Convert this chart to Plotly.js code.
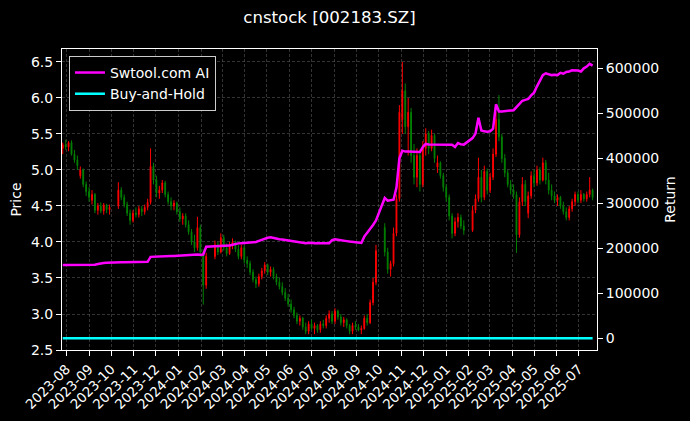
<!DOCTYPE html>
<html>
<head>
<meta charset="utf-8">
<script src="https://cdn.plot.ly/plotly-3.0.1.min.js"></script>
<style>html,body{margin:0;padding:0;background:#000;}#chart{width:690px;height:421px;}</style>
</head>
<body>
<div id="chart"></div>
<script>
const dates = [
'2023-07-27','2023-07-31','2023-08-04','2023-08-08','2023-08-12','2023-08-16','2023-08-20','2023-08-24','2023-08-28',
'2023-09-01','2023-09-05','2023-09-09','2023-09-13','2023-09-17','2023-09-21','2023-09-25','2023-09-29',
'2023-10-11','2023-10-15','2023-10-19','2023-10-23','2023-10-27','2023-10-31',
'2023-11-04','2023-11-08','2023-11-12','2023-11-16','2023-11-20','2023-11-24','2023-11-28',
'2023-12-02','2023-12-06','2023-12-10','2023-12-14','2023-12-18','2023-12-22','2023-12-26','2023-12-30',
'2024-01-03','2024-01-07','2024-01-11','2024-01-15','2024-01-19','2024-01-23','2024-01-27','2024-01-31',
'2024-02-04','2024-02-08','2024-02-20','2024-02-24','2024-02-28',
'2024-03-03','2024-03-07','2024-03-11','2024-03-15','2024-03-19','2024-03-23','2024-03-27','2024-03-31',
'2024-04-04','2024-04-08','2024-04-12','2024-04-16','2024-04-20','2024-04-24','2024-04-28',
'2024-05-02','2024-05-06','2024-05-10','2024-05-14','2024-05-18','2024-05-22','2024-05-26','2024-05-30',
'2024-06-03','2024-06-07','2024-06-11','2024-06-15','2024-06-19','2024-06-23','2024-06-27',
'2024-07-01','2024-07-05','2024-07-09','2024-07-13','2024-07-17','2024-07-21','2024-07-25','2024-07-29',
'2024-08-02','2024-08-06','2024-08-10','2024-08-14','2024-08-18','2024-08-22','2024-08-26','2024-08-30',
'2024-09-03','2024-09-07','2024-09-11','2024-09-15','2024-09-19','2024-09-23','2024-09-27',
'2024-10-09','2024-10-13','2024-10-17','2024-10-21','2024-10-25','2024-10-29',
'2024-11-02','2024-11-06','2024-11-10','2024-11-14','2024-11-18','2024-11-22','2024-11-26','2024-11-30',
'2024-12-04','2024-12-08','2024-12-12','2024-12-16','2024-12-20','2024-12-24','2024-12-28',
'2025-01-01','2025-01-05','2025-01-09','2025-01-13','2025-01-17','2025-01-21','2025-01-25',
'2025-02-06','2025-02-10','2025-02-14','2025-02-18','2025-02-22','2025-02-26',
'2025-03-02','2025-03-06','2025-03-10','2025-03-14','2025-03-18','2025-03-22','2025-03-26','2025-03-30',
'2025-04-03','2025-04-07','2025-04-11','2025-04-15','2025-04-19','2025-04-23','2025-04-27',
'2025-05-01','2025-05-05','2025-05-09','2025-05-13','2025-05-17','2025-05-21','2025-05-25','2025-05-29',
'2025-06-02','2025-06-06','2025-06-10','2025-06-14','2025-06-18','2025-06-22','2025-06-26','2025-06-30',
'2025-07-04','2025-07-08','2025-07-12','2025-07-16','2025-07-20'
];

const openP = [
5.30,5.35,5.32,5.38,5.22,5.14,4.92,5.00,4.80,
4.70,4.58,4.66,4.44,4.50,4.43,4.51,4.45,
4.50,4.72,4.62,4.52,4.40,4.30,
4.40,4.38,4.46,4.42,4.48,4.55,5.05,
4.86,4.68,4.72,4.82,4.66,4.56,4.50,4.54,
4.42,4.32,4.36,4.24,4.14,4.00,3.92,4.20,
3.86,3.40,3.80,3.96,3.86,
4.06,3.92,3.84,3.96,4.00,3.90,3.80,3.92,
3.75,3.70,3.58,3.48,3.42,3.52,3.60,
3.68,3.58,3.62,3.52,3.44,3.38,3.30,3.22,
3.14,3.06,2.98,2.90,2.94,2.82,2.76,
2.86,2.80,2.84,2.78,2.86,2.84,2.94,3.00,
2.90,3.04,2.96,2.88,2.92,2.84,2.76,2.84,
2.82,2.78,2.80,2.94,2.88,3.16,3.44,
4.20,3.86,3.62,3.70,4.12,4.60,
5.70,6.10,5.60,5.80,5.20,4.90,5.20,4.80,
5.30,5.50,5.30,5.48,5.04,5.10,4.92,
4.76,4.62,4.36,4.12,4.28,4.34,4.22,
4.16,4.44,4.60,4.90,4.62,4.98,
4.72,4.90,5.22,5.70,5.46,5.16,4.96,4.80,
4.72,4.66,4.10,4.56,4.80,4.40,4.64,
4.92,4.82,5.00,4.86,5.10,4.86,4.72,4.64,
4.58,4.62,4.50,4.42,4.34,4.46,4.56,4.66,
4.58,4.66,4.60,4.66,4.72
];

const highP = [
5.38,5.42,5.40,5.41,5.28,5.20,5.05,5.02,4.84,
4.76,4.72,4.68,4.54,4.55,4.54,4.53,4.52,
4.83,4.76,4.66,4.56,4.45,4.44,
4.48,4.50,4.50,4.52,4.60,5.30,5.10,
4.92,4.78,4.86,4.85,4.70,4.62,4.58,4.56,
4.48,4.40,4.40,4.30,4.18,4.10,4.35,4.24,
3.90,3.85,4.02,4.00,4.12,
4.10,3.98,4.00,4.05,4.02,3.96,3.96,3.95,
3.80,3.74,3.62,3.52,3.56,3.64,3.72,
3.70,3.66,3.65,3.56,3.50,3.44,3.36,3.28,
3.20,3.10,3.02,2.98,2.96,2.88,2.90,
2.92,2.88,2.86,2.90,2.92,2.98,3.05,3.04,
3.08,3.06,3.00,2.96,2.94,2.86,2.88,2.90,
2.86,2.84,2.98,3.00,3.20,3.50,3.96,
4.26,3.92,3.74,4.20,4.66,5.90,
6.50,6.20,6.00,5.86,5.36,5.30,5.28,5.40,
5.58,5.54,5.56,5.50,5.20,5.12,4.96,
4.80,4.66,4.40,4.34,4.40,4.38,4.30,
4.50,4.66,5.17,5.00,5.06,5.02,
4.96,5.30,5.80,6.04,5.50,5.22,5.00,4.86,
4.80,4.70,4.62,4.90,4.86,4.70,4.98,
5.00,5.06,5.04,5.17,5.14,4.96,4.80,4.70,
4.66,4.64,4.56,4.48,4.50,4.60,4.70,4.70,
4.72,4.68,4.70,4.90,4.74
];

const lowP = [
5.22,5.28,5.26,5.20,5.10,5.00,4.88,4.76,4.64,
4.56,4.52,4.40,4.38,4.40,4.38,4.40,4.38,
4.46,4.58,4.48,4.36,4.24,4.27,
4.34,4.34,4.36,4.38,4.44,4.52,4.80,
4.62,4.60,4.68,4.62,4.52,4.44,4.44,4.38,
4.28,4.24,4.20,4.10,3.96,3.86,3.88,3.80,
3.13,3.35,3.76,3.82,3.84,
3.88,3.80,3.82,3.90,3.86,3.76,3.76,3.70,
3.64,3.54,3.44,3.36,3.38,3.48,3.56,
3.54,3.52,3.48,3.40,3.34,3.26,3.18,3.10,
3.02,2.94,2.86,2.84,2.78,2.72,2.72,
2.78,2.72,2.74,2.74,2.80,2.80,2.88,2.86,
2.86,2.92,2.84,2.82,2.80,2.72,2.72,2.78,
2.76,2.72,2.78,2.84,2.86,3.12,3.40,
3.80,3.56,3.52,3.66,4.08,4.56,
5.50,5.50,5.20,5.10,4.80,4.76,4.70,4.76,
5.20,5.22,5.26,5.10,4.96,4.88,4.70,
4.56,4.30,4.05,4.08,4.20,4.18,4.10,
4.14,4.40,4.56,4.55,4.58,4.66,
4.68,4.86,5.18,5.40,5.10,4.90,4.76,4.66,
4.60,3.85,4.06,4.50,4.50,4.33,4.60,
4.76,4.78,4.80,4.84,4.80,4.66,4.58,4.54,
4.50,4.46,4.38,4.30,4.30,4.42,4.50,4.54,
4.54,4.56,4.56,4.62,4.58
];

const closeP = [
5.35,5.32,5.38,5.22,5.14,5.06,5.00,4.80,4.70,
4.62,4.66,4.44,4.50,4.43,4.51,4.45,4.48,
4.72,4.62,4.52,4.40,4.30,4.40,
4.38,4.46,4.42,4.48,4.55,5.05,4.86,
4.68,4.72,4.82,4.66,4.56,4.50,4.54,4.42,
4.32,4.36,4.24,4.14,4.00,3.92,4.20,3.86,
3.40,3.80,3.96,3.86,4.06,
3.92,3.84,3.96,4.00,3.90,3.80,3.92,3.75,
3.70,3.58,3.48,3.42,3.52,3.60,3.68,
3.58,3.62,3.52,3.44,3.38,3.30,3.22,3.14,
3.06,2.98,2.90,2.94,2.82,2.76,2.86,
2.80,2.84,2.78,2.86,2.84,2.94,3.00,2.90,
3.04,2.96,2.88,2.92,2.84,2.76,2.84,2.82,
2.78,2.80,2.94,2.88,3.16,3.44,3.88,
3.86,3.62,3.70,4.12,4.60,5.80,
6.10,5.60,5.80,5.20,4.90,5.20,4.80,5.30,
5.50,5.30,5.48,5.16,5.10,4.92,4.76,
4.62,4.36,4.12,4.28,4.34,4.22,4.16,
4.44,4.60,4.90,4.62,4.98,4.72,
4.90,5.22,5.70,5.46,5.16,4.96,4.80,4.72,
4.66,4.10,4.56,4.80,4.56,4.64,4.92,
4.82,5.00,4.86,5.10,4.86,4.72,4.64,4.58,
4.62,4.50,4.42,4.34,4.46,4.56,4.66,4.58,
4.66,4.60,4.66,4.72,4.62
];

const strategyReturn = [
163000,163000,163000,163000,162500,163000,163000,162500,163000,
163000,163000,163500,165000,167000,167500,168000,168500,
169000,169000,169000,169000,169500,169500,
169500,170000,170000,170000,170000,181000,181500,
182000,182500,182000,182000,182500,183000,183000,183500,
183000,183500,184000,184000,185000,186500,186000,185500,
186000,203500,204000,204000,204500,
205000,205500,206000,208000,210000,211000,211500,212000,
212000,213000,213500,214000,216500,219000,222000,
223500,224500,222500,221000,220000,219500,218500,217500,
216500,216000,215000,214500,212000,211500,212000,
212500,211000,211000,212000,211000,210500,211000,218000,
220000,219000,218500,217500,216000,215000,214000,213000,
212500,212000,226000,234000,242000,252000,262000,
312000,306000,307000,308000,335000,400000,
417000,415000,415000,414500,414500,414000,414000,425000,
432000,431000,431000,430500,430500,430000,430000,
430000,430000,430000,425000,434000,431000,430500,
445000,455000,490000,462000,460000,459000,
460000,466000,520000,504000,504000,504500,505000,506000,
507000,514000,522000,528000,530000,532000,540000,
546000,560000,572000,585000,589000,587000,585000,586000,
585000,590000,588000,592000,593000,596000,596000,595000,
593000,600000,604000,610000,606000
];

const buyHoldDates = ['2023-07-27','2025-07-20'];
const buyHoldReturn = [0, 0];

const chartTitle = 'cnstock [002183.SZ]';
const seriesNames = ['Swtool.com AI', 'Buy-and-Hold'];

const grid = '#555555';
const gridDash = '3px,2px';
const traces = [
  {
    type: 'candlestick', x: dates, open: openP, high: highP, low: lowP, close: closeP,
    xaxis: 'x', yaxis: 'y', showlegend: false, hoverinfo: 'skip',
    increasing: {line: {color: '#ff0000', width: 1}, fillcolor: '#ff0000'},
    decreasing: {line: {color: '#008000', width: 1}, fillcolor: '#008000'}
  },
  {
    type: 'scatter', mode: 'lines', x: dates, y: strategyReturn, yaxis: 'y2',
    name: seriesNames[0], line: {color: '#ff00ff', width: 2.5}
  },
  {
    type: 'scatter', mode: 'lines', x: buyHoldDates, y: buyHoldReturn, yaxis: 'y2',
    name: seriesNames[1], line: {color: '#00ffff', width: 2.5}
  }
];

const layout = {
  width: 690, height: 421,
  paper_bgcolor: '#000', plot_bgcolor: '#000',
  font: {family: 'DejaVu Sans', color: '#ffffff', size: 14},
  title: {text: chartTitle, font: {size: 16.6, color: '#ffffff'}, x: 0.5, xref: 'paper', xanchor: 'center',
          y: 0.96, yref: 'container', yanchor: 'middle'},
  margin: {l: 62, r: 93, t: 49, b: 71},
  boxgap: 0.6,
  showlegend: true,
  legend: {x: 0.013, y: 0.977, xanchor: 'left', yanchor: 'top', bgcolor: '#000', bordercolor: '#cccccc',
           borderwidth: 1, font: {size: 14, color: '#ffffff'}, tracegroupgap: 0},
  xaxis: {
    type: 'date', range: ['2023-07-26', '2025-07-26'], rangeslider: {visible: false},
    tickformat: '%Y-%m', dtick: 'M1', tick0: '2023-08-01', tickangle: -45,
    ticks: 'outside', ticklen: 5, tickcolor: '#ffffff', tickfont: {size: 13.5, color: '#ffffff'},
    showline: true, linecolor: '#ffffff', linewidth: 1, mirror: true,
    showgrid: true, gridcolor: grid, griddash: gridDash, gridwidth: 0.6, zeroline: false
  },
  yaxis: {
    range: [2.5, 6.68], dtick: 0.5, tick0: 2.5, tickformat: '.1f',
    ticks: 'outside', ticklen: 5, tickcolor: '#ffffff', tickfont: {size: 14, color: '#ffffff'},
    showline: true, linecolor: '#ffffff', linewidth: 1, mirror: true,
    showgrid: true, gridcolor: grid, griddash: gridDash, gridwidth: 0.6, zeroline: false,
    title: {text: 'Price', font: {size: 14, color: '#ffffff'}, standoff: 6}
  },
  yaxis2: {
    overlaying: 'y', side: 'right', range: [-26000, 643000], dtick: 100000, tick0: 0, tickformat: 'd',
    ticks: 'outside', ticklen: 5, tickcolor: '#ffffff', tickfont: {size: 14, color: '#ffffff'},
    showline: true, linecolor: '#ffffff', linewidth: 1,
    showgrid: false, zeroline: false,
    title: {text: 'Return', font: {size: 14, color: '#ffffff'}, standoff: 6}
  }
};

Plotly.newPlot('chart', traces, layout, {displayModeBar: false, staticPlot: true});
</script>
</body>
</html>
